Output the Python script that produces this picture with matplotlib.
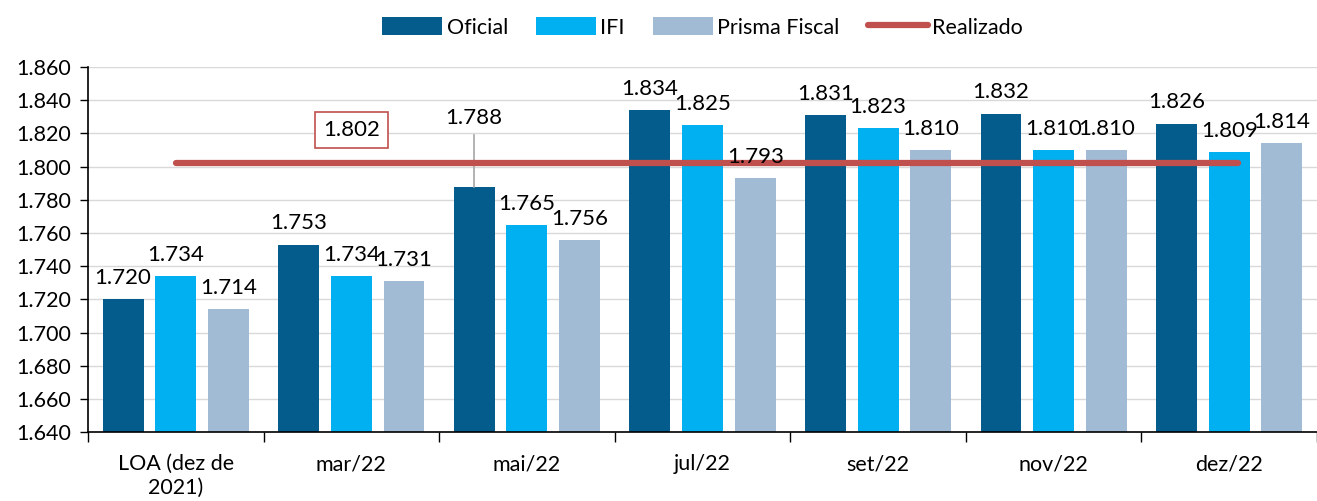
import numpy as np
import matplotlib
matplotlib.use("Agg")
import matplotlib.pyplot as plt
from matplotlib.ticker import FuncFormatter

plt.rcParams['font.family'] = ['Lato', 'DejaVu Sans']

# dados
categorias = ["LOA (dez de\n2021)", "mar/22", "mai/22", "jul/22", "set/22", "nov/22", "dez/22"]
oficial = [1720, 1753, 1788, 1834, 1831, 1832, 1826]
ifi = [1734, 1734, 1765, 1825, 1823, 1810, 1809]
prisma = [1714, 1731, 1756, 1793, 1810, 1810, 1814]
realizado = 1802

cores = {"Oficial": "#035C8B", "IFI": "#00B0F0", "Prisma Fiscal": "#A1BBD5"}
fmt = lambda v: f"{v:,.0f}".replace(",", ".")

fig = plt.figure(figsize=(13.17, 5.01), dpi=100)
ax = fig.add_axes([0.0668, 0.1377, 0.9332, 0.7283])

x = np.arange(len(categorias))
w = 0.233
series = [("Oficial", oficial, -0.3), ("IFI", ifi, 0.0), ("Prisma Fiscal", prisma, 0.3)]
for nome, vals, off in series:
    bars = ax.bar(x + off, vals, w, color=cores[nome], label=nome, zorder=2)
    for i, (b, v) in enumerate(zip(bars, vals)):
        if nome == "Oficial" and i == 2:
            # rotulo deslocado com linha guia
            ax.plot([b.get_x() + w / 2] * 2, [v, 1819], color="#A6A6A6", lw=1.2, zorder=3)
            ax.text(b.get_x() + w / 2, 1823.5, fmt(v), ha="center", va="bottom", fontsize=16)
            continue
        ax.annotate(fmt(v), (b.get_x() + w / 2, v), xytext=(0, 8), textcoords="offset points",
                    ha="center", va="bottom", fontsize=16, zorder=5)

ax.plot([x[0], x[-1] + 0.05], [realizado, realizado], color="#C0504D", lw=4.5,
        solid_capstyle="round", label="Realizado", zorder=4)
ax.text(1.0, 1822, fmt(realizado), ha="center", va="center", fontsize=16,
        bbox=dict(boxstyle="square,pad=0.35", fc="white", ec="#C0504D", lw=1.2))

ax.set_ylim(1640, 1860)
ax.set_yticks(np.arange(1640, 1861, 20))
ax.yaxis.set_major_formatter(FuncFormatter(lambda v, p: fmt(v)))
ax.set_xlim(-0.5, 6.5)
ax.set_xticks(x)
ax.set_xticklabels(categorias)
ax.set_xticks(np.arange(-0.5, 7, 1), minor=True)
ax.tick_params(axis="x", which="major", length=0, pad=16, labelsize=15.5)
ax.tick_params(axis="x", which="minor", length=7, width=1, direction="out")
ax.tick_params(axis="y", length=6, width=1, labelsize=15.5, pad=6)
ax.grid(axis="y", color="#D9D9D9", lw=1, zorder=0)
ax.set_axisbelow(True)
for s in ["top", "right"]:
    ax.spines[s].set_visible(False)
for s in ["left", "bottom"]:
    ax.spines[s].set_color("black")
    ax.spines[s].set_linewidth(1.2)

h, l = ax.get_legend_handles_labels()
ordem = [l.index(n) for n in ["Oficial", "IFI", "Prisma Fiscal", "Realizado"]]
ax.legend([h[i] for i in ordem], [l[i] for i in ordem], loc="upper center",
          bbox_to_anchor=(0.5, 1.19), ncol=4, frameon=False, fontsize=15.5,
          handlelength=2.8, handleheight=0.9, columnspacing=1.3, handletextpad=0.2)

fig.savefig("out.png", dpi=100)
